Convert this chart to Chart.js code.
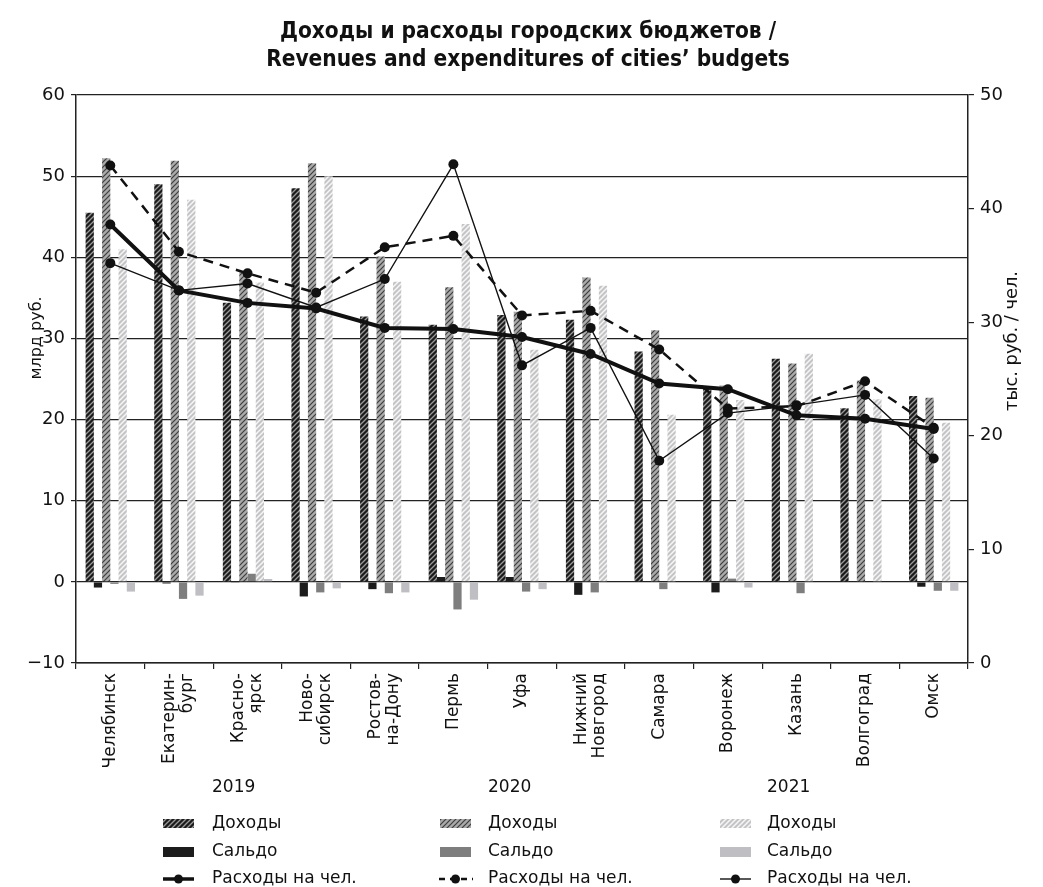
<!DOCTYPE html>
<html>
<head>
<meta charset="utf-8">
<script src="https://cdn.jsdelivr.net/npm/chart.js@4.4.1/dist/chart.umd.min.js"></script>
<style>
html,body{margin:0;padding:0;background:#fff;}
#wrap{width:1043px;height:887px;position:relative;}
</style>
</head>
<body>
<div id="wrap"><canvas id="c" width="1043" height="887"></canvas></div>
<script>
// ---- data ----
const categories = [['Челябинск'], ['Екатерин-','бург'], ['Красно-','ярск'], ['Ново-','сибирск'], ['Ростов-','на-Дону'], ['Пермь'], ['Уфа'], ['Нижний','Новгород'], ['Самара'], ['Воронеж'], ['Казань'], ['Волгоград'], ['Омск']];
const years = ['2019', '2020', '2021'];
const legendLabels = ['Доходы', 'Сальдо', 'Расходы на чел.'];
const titleLines = ['Доходы и расходы городских бюджетов /', 'Revenues and expenditures of cities’ budgets'];
const leftAxisTitle = 'млрд руб.';
const rightAxisTitle = 'тыс. руб. / чел.';

const revenue2019 = [45.5, 49.0, 34.4, 48.5, 32.7, 31.7, 32.9, 32.3, 28.4, 23.8, 27.5, 21.4, 22.9];
const revenue2020 = [52.2, 51.9, 38.3, 51.6, 40.1, 36.3, 33.3, 37.5, 31.0, 24.2, 26.9, 24.8, 22.7];
const revenue2021 = [41.0, 47.1, 36.9, 50.0, 37.0, 44.1, 28.6, 36.5, 20.6, 22.4, 28.1, 22.5, 19.6];

const balance2019 = [-0.7, -0.2, -0.1, -1.8, -0.9, 0.6, 0.6, -1.6, 0, -1.3, 0, 0, -0.6];
const balance2020 = [-0.25, -2.1, 1.0, -1.3, -1.4, -3.4, -1.2, -1.3, -0.9, 0.4, -1.4, 0, -1.1];
const balance2021 = [-1.2, -1.7, 0.35, -0.8, -1.3, -2.2, -0.9, -0.1, 0, -0.7, 0, 0, -1.1];

const spendPerCap2019 = [38.6, 32.8, 31.7, 31.2, 29.5, 29.4, 28.7, 27.2, 24.6, 24.1, 21.8, 21.5, 20.6];
const spendPerCap2020 = [43.8, 36.2, 34.3, 32.6, 36.6, 37.6, 30.6, 31.0, 27.6, 22.4, 22.6, 24.8, 20.7];
const spendPerCap2021 = [35.2, 32.8, 33.4, 31.3, 33.8, 43.9, 26.2, 29.5, 17.8, 22.0, 22.7, 23.6, 18.0];

const leftTicks = {min: -10, max: 60, step: 10};
const rightTicks = {min: 0, max: 50, step: 10};

// ---- styles ----
const FONT = "'DejaVu Sans', 'Noto Sans', sans-serif";
const ctxMain = document.getElementById('c').getContext('2d');
function hatch(bg, fg, size, lw) {
  const c = document.createElement('canvas');
  c.width = size; c.height = size;
  const g = c.getContext('2d');
  g.fillStyle = bg; g.fillRect(0, 0, size, size);
  g.strokeStyle = fg; g.lineWidth = lw;
  g.beginPath();
  g.moveTo(-1, size + 1); g.lineTo(size + 1, -1);
  g.moveTo(-2, 2); g.lineTo(2, -2);
  g.moveTo(size - 2, size + 2); g.lineTo(size + 2, size - 2);
  g.stroke();
  return ctxMain.createPattern(c, 'repeat');
}
const hatchDark = hatch('#1b1b1b', '#9a9a9a', 5, 1.3);
const hatchMid = hatch('#aaaaaa', '#3e3e3e', 5, 1.2);
const hatchLight = hatch('#c4c4c6', '#f6f6f6', 5, 1.5);
const solidDark = '#1c1c1c';
const solidMid = '#7e7e7e';
const solidLight = '#bfbfc3';
const revFills = [hatchDark, hatchMid, hatchLight];
const balFills = [solidDark, solidMid, solidLight];
const lineStyles = [
  {w: 4, dash: []},
  {w: 2.5, dash: [10, 7]},
  {w: 1.4, dash: []}
];

const revenues = [revenue2019, revenue2020, revenue2021];
const balances = [balance2019, balance2020, balance2021];
const spends = [spendPerCap2019, spendPerCap2020, spendPerCap2021];

const datasets = [];
for (let i = 0; i < 3; i++) {
  datasets.push({type: 'bar', label: legendLabels[0] + ' ' + years[i], data: revenues[i], backgroundColor: revFills[i], yAxisID: 'y', order: 2, borderWidth: 0});
  datasets.push({type: 'bar', label: legendLabels[1] + ' ' + years[i], data: balances[i], backgroundColor: balFills[i], yAxisID: 'y', order: 2, borderWidth: 0});
}
for (let i = 0; i < 3; i++) {
  datasets.push({type: 'line', label: legendLabels[2] + ' ' + years[i], data: spends[i], yAxisID: 'y2', order: 0,
    borderColor: '#111', borderWidth: lineStyles[i].w, borderDash: lineStyles[i].dash,
    pointRadius: 5, pointBackgroundColor: '#111', pointBorderWidth: 0, pointHoverRadius: 5, tension: 0, fill: false});
}

const decorPlugin = {
  id: 'decor',
  afterDraw(chart) {
    const ctx = chart.ctx;
    const area = chart.chartArea;
    const xs = chart.scales.x;
    ctx.save();
    // title
    ctx.fillStyle = '#111';
    ctx.textAlign = 'center';
    ctx.textBaseline = 'alphabetic';
    const tf = "'Liberation Sans Narrow', 'DejaVu Sans Condensed', 'Roboto Condensed', sans-serif";
    ctx.font = 'bold 20px ' + tf;
    const w2 = ctx.measureText(titleLines[1]).width;
    const ts = 20 * 524 / w2;
    ctx.font = 'bold ' + ts.toFixed(2) + 'px ' + tf;
    ctx.fillText(titleLines[0], 528, 38);
    ctx.fillText(titleLines[1], 528, 66);

    // category labels (rotated, reading bottom-to-top, centred on each category)
    ctx.font = '17px ' + FONT;
    ctx.textAlign = 'right';
    ctx.textBaseline = 'middle';
    const lh = 18;
    categories.forEach((lines, i) => {
      const cx = xs.getPixelForValue(i);
      lines.forEach((t, j) => {
        const x = cx + (j - (lines.length - 1) / 2) * lh;
        ctx.save(); ctx.translate(x, area.bottom + 10); ctx.rotate(-Math.PI / 2); ctx.fillText(t, 0, 0); ctx.restore();
      });
    });

    // axis titles (both read bottom-to-top)
    ctx.textAlign = 'center';
    ctx.font = '16px ' + FONT;
    ctx.save(); ctx.translate(37, 338); ctx.rotate(-Math.PI / 2); ctx.fillText(leftAxisTitle, 0, 0); ctx.restore();
    const rw = ctx.measureText(rightAxisTitle).width;
    ctx.font = (16 * 140 / rw).toFixed(2) + 'px ' + FONT;
    ctx.save(); ctx.translate(1012, 341); ctx.rotate(-Math.PI / 2); ctx.fillText(rightAxisTitle, 0, 0); ctx.restore();

    // legend
    const colSw = [163, 440, 720];
    const colTx = [212, 488, 767];
    const swW = 31;
    ctx.font = '17px ' + FONT;
    ctx.textAlign = 'left';
    ctx.textBaseline = 'middle';
    for (let i = 0; i < 3; i++) {
      ctx.fillStyle = '#111';
      ctx.fillText(years[i], colTx[i], 788);
      ctx.fillStyle = revFills[i];
      ctx.fillRect(colSw[i], 819, swW, 9);
      ctx.fillStyle = '#111';
      ctx.fillText(legendLabels[0], colTx[i], 824);
      ctx.fillStyle = balFills[i];
      ctx.fillRect(colSw[i], 847, swW, 10);
      ctx.fillStyle = '#111';
      ctx.fillText(legendLabels[1], colTx[i], 852);
      ctx.strokeStyle = '#111';
      ctx.lineWidth = Math.min(lineStyles[i].w, 3.5);
      ctx.setLineDash(i === 1 ? [6, 5] : []);
      ctx.beginPath();
      if (i === 1) { ctx.moveTo(colSw[i] - 1, 879); ctx.lineTo(colSw[i] + swW + 2, 879); }
      else { ctx.moveTo(colSw[i], 879); ctx.lineTo(colSw[i] + swW, 879); }
      ctx.stroke();
      ctx.setLineDash([]);
      ctx.beginPath();
      ctx.arc(colSw[i] + swW / 2, 879, 4.5, 0, Math.PI * 2);
      ctx.fillStyle = '#111';
      ctx.fill();
      ctx.fillText(legendLabels[2], colTx[i], 879);
    }
    ctx.restore();
  }
};

new Chart(ctxMain, {
  type: 'bar',
  data: {labels: categories.map(l => l.join(' ')), datasets},
  plugins: [decorPlugin],
  options: {
    responsive: false,
    animation: false,
    devicePixelRatio: 1,
    layout: {padding: {top: 95, left: 0, right: 0, bottom: 0}},
    datasets: {bar: {categoryPercentage: 0.72, barPercentage: 1.0}},
    plugins: {legend: {display: false}, tooltip: {enabled: false}, title: {display: false}},
    scales: {
      x: {
        offset: true,
        grid: {display: true, drawOnChartArea: false, drawTicks: true, tickLength: 6, color: '#222', lineWidth: 1.2, offset: true},
        border: {display: true, color: '#222', width: 1.5},
        ticks: {display: false},
        afterFit(s) { s.height = 224; }
      },
      y: {
        position: 'left',
        min: leftTicks.min, max: leftTicks.max,
        grid: {color: '#222', lineWidth: 1.2, drawTicks: true, tickLength: 5},
        border: {display: true, color: '#222', width: 1.5},
        ticks: {stepSize: leftTicks.step, color: '#111', font: {family: FONT, size: 18}, padding: 6,
          callback: v => String(v).replace('-', '−')},
        afterFit(s) { s.width = 76; }
      },
      y2: {
        position: 'right',
        min: rightTicks.min, max: rightTicks.max,
        grid: {drawOnChartArea: false, drawTicks: true, tickLength: 6, color: '#222', lineWidth: 1.2},
        border: {display: true, color: '#222', width: 1.5},
        ticks: {stepSize: rightTicks.step, color: '#111', font: {family: FONT, size: 18}, padding: 6},
        afterFit(s) { s.width = 75; }
      }
    }
  }
});
</script>
</body>
</html>
